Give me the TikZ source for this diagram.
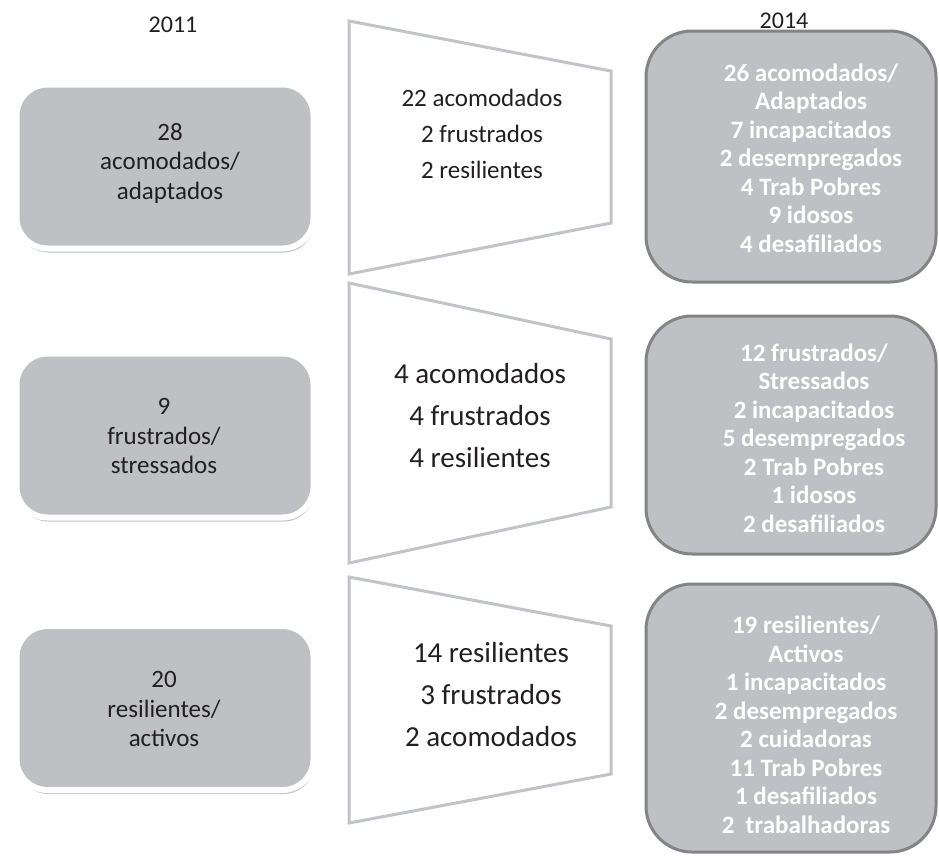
\documentclass[tikz,border=0pt]{standalone}
\usepackage{fontspec}
\setmainfont{Carlito}
\usetikzlibrary{shadows}
\definecolor{boxgray}{RGB}{191,192,196}
\definecolor{edgegray}{RGB}{132,132,134}
\definecolor{trapgray}{RGB}{194,195,199}
\definecolor{txtcol}{RGB}{35,31,32}
\begin{document}
\begin{tikzpicture}[x=1pt,y=-1pt,
  oldbox/.style={fill=boxgray, draw=white, line width=6pt, rounded corners=31pt,
    drop shadow={shadow xshift=1pt, shadow yshift=-4pt, opacity=0.35, fill=black!70}},
  newbox/.style={fill=boxgray, draw=edgegray, line width=3pt, rounded corners=46pt},
  trapbox/.style={draw=trapgray, line width=3pt, line join=miter},
  oldtxt/.style={inner sep=0pt, align=center, text=txtcol, font=\fontsize{25}{29.5}\selectfont},
  newtxt/.style={inner sep=0pt, align=center, text=white, font=\bfseries\fontsize{25}{28.5}\selectfont},
  smalltrap/.style={inner sep=0pt, align=center, text=txtcol, font=\fontsize{25}{36}\selectfont},
  bigtrap/.style={inner sep=0pt, align=center, text=txtcol, font=\fontsize{29}{42}\selectfont},
  yeartxt/.style={inner sep=0pt, text=txtcol, font=\fontsize{24}{28}\selectfont}]
\useasboundingbox (0,0) rectangle (939,855);

% years
\node[yeartxt] (y2011) at (173,25) {2011};
\node[yeartxt] (y2014) at (784,21) {2014};

% left boxes (2011)
\draw[oldbox] (16.5,84.5) rectangle (313.5,248.5);
\node[oldtxt] (a1) at (170,163) {28\\acomodados/\\adaptados};
\draw[oldbox] (16.5,353.5) rectangle (313.5,517.5);
\node[oldtxt] (a2) at (164,436) {9\\frustrados/\\stressados};
\draw[oldbox] (16.5,626) rectangle (313.5,790);
\node[oldtxt] (a3) at (164,709) {20\\resilientes/\\activos};

% trapezoids
\coordinate (t1a) at (349,21);  \coordinate (t1b) at (611,71);
\coordinate (t1c) at (611,223); \coordinate (t1d) at (349,274);
\draw[trapbox] (t1a) -- (t1b) -- (t1c) -- (t1d) -- cycle;
\node[smalltrap] (m1) at (482,134) {22 acomodados\\2 frustrados\\2 resilientes};

\coordinate (t2a) at (349,283); \coordinate (t2b) at (611,339);
\coordinate (t2c) at (611,507); \coordinate (t2d) at (349,563);
\draw[trapbox] (t2a) -- (t2b) -- (t2c) -- (t2d) -- cycle;
\node[bigtrap] (m2) at (480,416) {4 acomodados\\4 frustrados\\4 resilientes};

\coordinate (t3a) at (349,577); \coordinate (t3b) at (611,626);
\coordinate (t3c) at (611,774); \coordinate (t3d) at (349,823);
\draw[trapbox] (t3a) -- (t3b) -- (t3c) -- (t3d) -- cycle;
\node[bigtrap] (m3) at (491,695) {14 resilientes\\3 frustrados\\2 acomodados};

% right boxes (2014)
\draw[newbox] (646,31) rectangle (936,282);
\node[newtxt] (b1) at (811,158) {26 acomodados/\\Adaptados\\7 incapacitados\\2 desempregados\\4 Trab Pobres\\9 idosos\\4 desafiliados};
\draw[newbox] (646,316) rectangle (936,554);
\node[newtxt] (b2) at (814,438) {12 frustrados/\\Stressados\\2 incapacitados\\5 desempregados\\2 Trab Pobres\\1 idosos\\2 desafiliados};
\draw[newbox] (646,584) rectangle (936,852);
\node[newtxt] (b3) at (806,725) {19 resilientes/\\Activos\\1 incapacitados\\2 desempregados\\2 cuidadoras\\11 Trab Pobres\\1 desafiliados\\2~ trabalhadoras};
\end{tikzpicture}
\end{document}
